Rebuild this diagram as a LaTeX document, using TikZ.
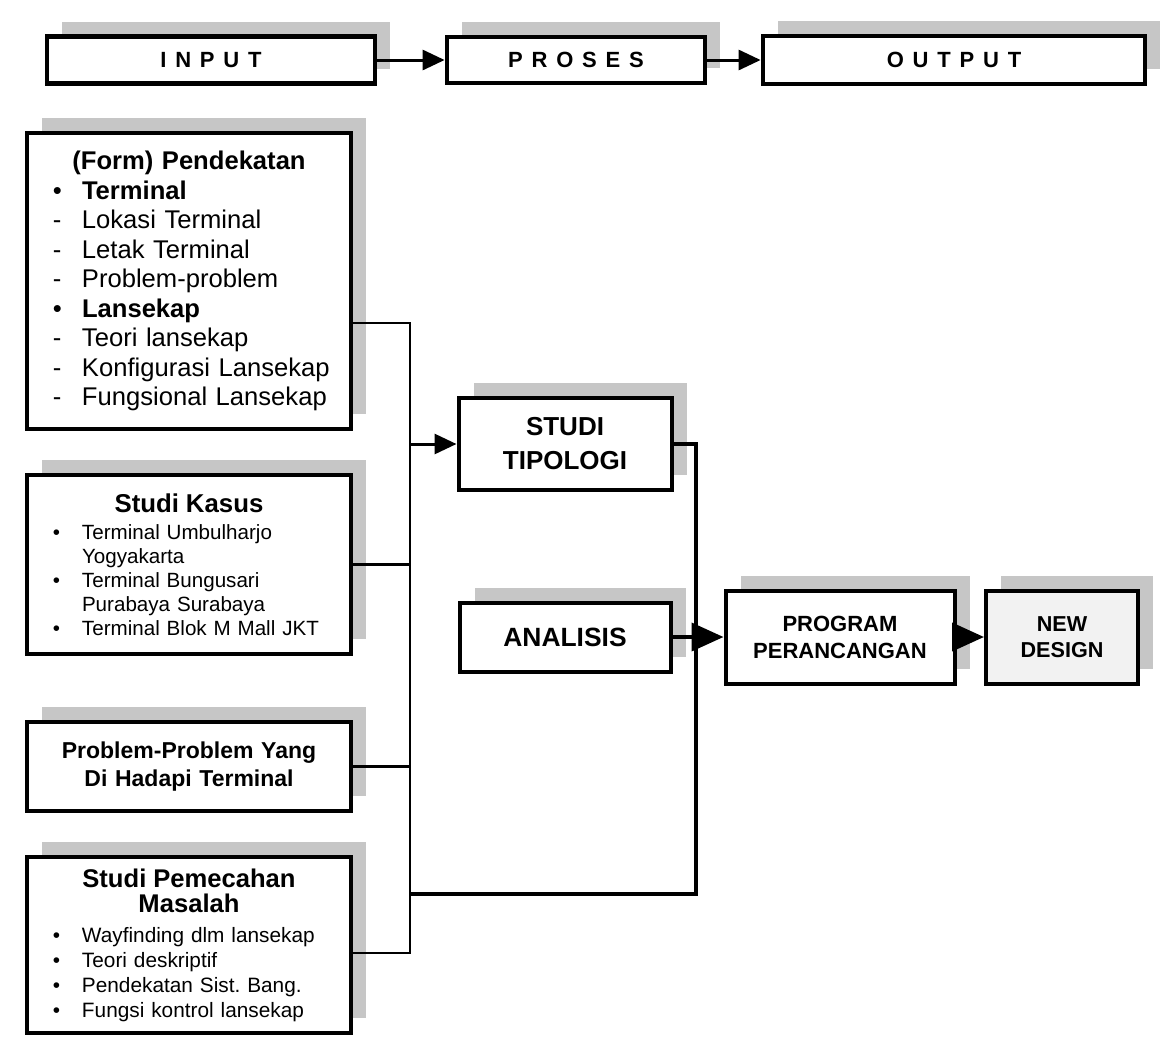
\documentclass[tikz,border=0pt]{standalone}
\usepackage{fontspec}
\setmainfont{Liberation Sans}
\usetikzlibrary{arrows.meta,shadows,positioning}
\setlength{\parindent}{0pt}
\frenchspacing
\newcommand\lsp{\kern4.4pt}
\newcommand\itm[2]{\hspace*{13pt}\makebox[14.5pt][l]{#1}#2\par}

\begin{document}
\begin{tikzpicture}[x=0.5pt, y=-0.5pt,
    shade box/.style={draw, fill=white, line width=1.8pt, inner sep=0pt, align=center,
      general shadow={fill=gray!45, shadow xshift=7.5pt, shadow yshift=7.5pt}},
    topbox/.style={shade box, line width=2.4pt, font=\fontsize{11}{13}\selectfont\bfseries},
    leftbox/.style={shade box, minimum width=162pt, text width=162pt, align=left},
    midbox/.style={shade box, line width=2pt},
    bus/.style={line width=1.3pt},
    trunk/.style={line width=2pt},
    small arrow/.style={-{Triangle[length=11pt, width=10pt]}, line width=1.5pt},
    big arrow/.style={-{Triangle[length=16pt, width=14pt]}, line width=2pt}]
    \useasboundingbox (0,0) rectangle (1163,1040);

    % Nodes
    \node[topbox, minimum width=164pt, minimum height=23.5pt] (input) at (211,60) {I\lsp N\lsp P\lsp U\lsp T};
    \node[topbox, minimum width=129pt, minimum height=23pt] (proses) at (576,60) {P\lsp R\lsp O\lsp S\lsp E\lsp S};
    \node[topbox, minimum width=191pt, minimum height=24pt] (output) at (954,60) {O\lsp U\lsp T\lsp P\lsp U\lsp T};

    \node[leftbox, minimum height=148pt, font=\fontsize{12.8}{14.75}\selectfont] (form) at (189,281) {%
      {\centering\bfseries (Form) Pendekatan\par}
      \itm{\textbullet}{\textbf{Terminal}}
      \itm{-}{Lokasi Terminal}
      \itm{-}{Letak Terminal}
      \itm{-}{Problem-problem}
      \itm{\textbullet}{\textbf{Lansekap}}
      \itm{-}{Teori lansekap}
      \itm{-}{Konfigurasi Lansekap}
      \itm{-}{Fungsional Lansekap}};
    \node[leftbox, minimum height=89.5pt, font=\fontsize{10.3}{12}\selectfont] (kasus) at (189,564.5) {%
      {\centering\fontsize{12.9}{13.5}\selectfont\bfseries Studi Kasus\par}\vspace{1.5pt}
      \itm{\textbullet}{Terminal Umbulharjo}
      \itm{}{Yogyakarta}
      \itm{\textbullet}{Terminal Bungusari}
      \itm{}{Purabaya Surabaya}
      \itm{\textbullet}{Terminal Blok M Mall JKT}};
    \node[leftbox, align=center, minimum height=44.5pt, font=\fontsize{11.5}{14}\selectfont\bfseries] (problem) at (189,766.5) {Problem-Problem Yang\\Di Hadapi Terminal};
    \node[leftbox, minimum height=88pt, font=\fontsize{10.4}{12.5}\selectfont] (solve) at (189,945) {%
      {\centering\fontsize{12.8}{12.5}\selectfont\bfseries Studi Pemecahan\\Masalah\par}\vspace{2.5pt}
      \itm{\textbullet}{Wayfinding dlm lansekap}
      \itm{\textbullet}{Teori deskriptif}
      \itm{\textbullet}{Pendekatan Sist. Bang.}
      \itm{\textbullet}{Fungsi kontrol lansekap}};

    \node[midbox, minimum width=106.5pt, minimum height=46pt, font=\fontsize{13}{17}\selectfont\bfseries] (tipologi) at (565,444) {STUDI\\TIPOLOGI};
    \node[midbox, minimum width=105.5pt, minimum height=34.5pt, font=\fontsize{13.2}{16}\selectfont\bfseries] (analisis) at (565,637) {ANALISIS};
    \node[midbox, minimum width=114.5pt, minimum height=46.5pt, font=\fontsize{11}{13.5}\selectfont\bfseries] (program) at (840,637) {PROGRAM\\PERANCANGAN};
    \node[midbox, fill=gray!10, minimum width=76pt, minimum height=46.5pt, font=\fontsize{10.8}{13}\selectfont\bfseries] (design) at (1062,637) {NEW\\DESIGN};

    % Paths
    \coordinate (bt) at (410,323);
    \coordinate (bb) at (410,953);
    \coordinate (rb) at (696,894);
    \draw[bus] (form.east |- bt) -- (bt) -- (bb) -- (solve.east |- bb);
    \draw[bus] (kasus.east) -- (kasus.east -| bt);
    \draw[bus] (problem.east) -- (problem.east -| bt);
    \draw[small arrow] (bt |- tipologi.west) -- (tipologi.west);
    \draw[trunk] (bt |- rb) -- (rb) -- (rb |- tipologi.east) -- (tipologi.east);
    \draw[trunk] (analisis.east) -- (analisis.east -| rb);
    \draw[big arrow] (analisis.east -| rb) -- (program.west);
    \draw[big arrow] (program.east) -- (design.west);
    \draw[small arrow] (input) -- (proses);
    \draw[small arrow] (proses) -- (output);
\end{tikzpicture}
\end{document}
